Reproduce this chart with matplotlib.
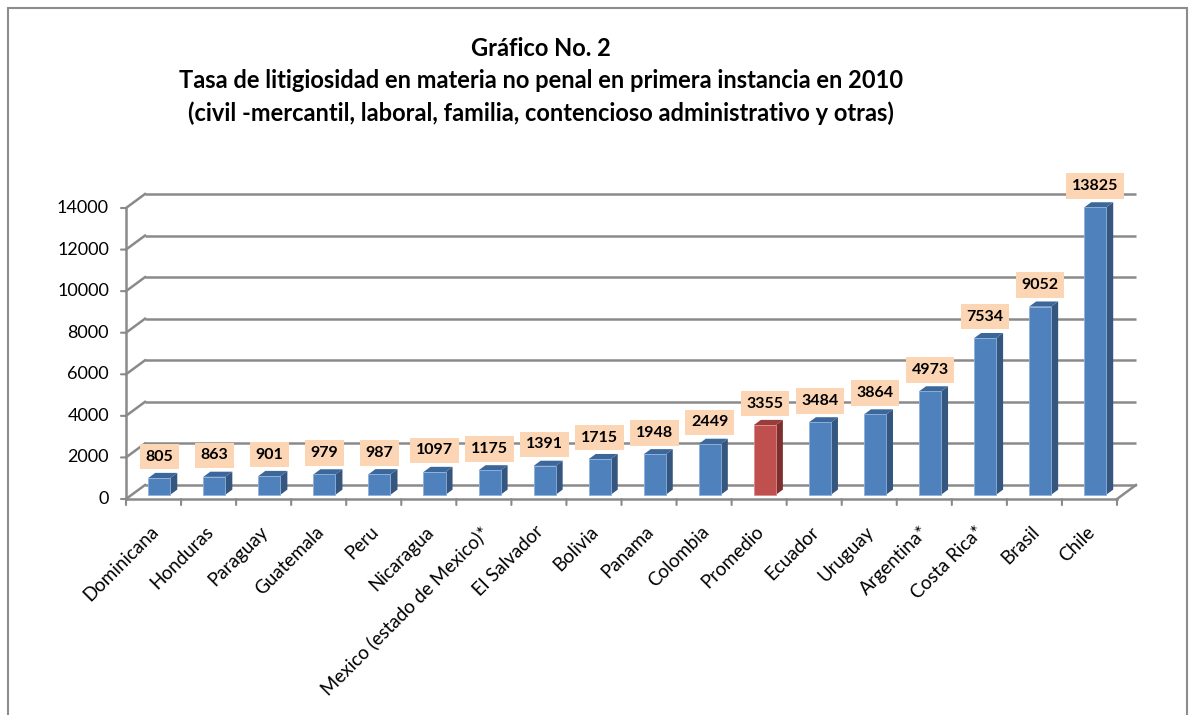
import matplotlib
matplotlib.use("Agg")
import matplotlib.pyplot as plt
from matplotlib.patches import Polygon, Rectangle

categories = [
    "Dominicana", "Honduras", "Paraguay", "Guatemala", "Peru", "Nicaragua",
    "Mexico (estado de Mexico)*", "El Salvador", "Bolivia", "Panama",
    "Colombia", "Promedio", "Ecuador", "Uruguay", "Argentina*",
    "Costa Rica*", "Brasil", "Chile",
]
values = [805, 863, 901, 979, 987, 1097, 1175, 1391, 1715, 1948,
          2449, 3355, 3484, 3864, 4973, 7534, 9052, 13825]
highlight = "Promedio"
yticks = [0, 2000, 4000, 6000, 8000, 10000, 12000, 14000]
title_lines = [
    "Gráfico No. 2",
    "Tasa de litigiosidad en materia no penal en primera instancia en 2010",
    "(civil -mercantil, laboral, familia, contencioso administrativo y otras)",
]

plt.rcParams["font.family"] = ["Lato", "DejaVu Sans"]

W, H, DPI = 1189, 715, 100
fig = plt.figure(figsize=(W / DPI, H / DPI), dpi=DPI)

GRID = "#8A8A8A"
BLUE = ("#4F81BD", "#34567F", "#3C679B", "#8DB0DA")
RED = ("#C0504D", "#7E2F2D", "#9A3C39", "#D98C8A")

# outer chart frame
fig.patches.append(Rectangle((8 / W, -0.02), (W - 10) / W, 1 - 8 / H + 0.02,
                             transform=fig.transFigure, fill=False,
                             ec="#8C8C8C", lw=1.5))

for k, line in enumerate(title_lines):
    fig.text(541 / W, 1 - (48.5 + 32.5 * k) / H, line, ha="center", va="center",
             fontsize=17, fontweight="bold", color="black")

ax = fig.add_axes([126 / W, 1 - 499 / H, (1117 - 126) / W, (499 - 208) / H])
n = len(categories)
ax.set_xlim(0, n)
ax.set_ylim(0, yticks[-1])
ax.axis("off")

# depth of the 3-D box, converted from pixels to data units
x0, y0 = ax.transData.transform((0, 0))
x1, y1 = ax.transData.transform((1, 1000))
DX = 19 / (x1 - x0)
DY = 14 / ((y1 - y0) / 1000)

# back wall gridlines and left wall diagonals
for y in yticks:
    ax.plot([DX, n + DX], [y + DY, y + DY], color=GRID, lw=1.8, zorder=1,
            solid_capstyle="butt", clip_on=False)
    ax.plot([0, DX], [y, y + DY], color=GRID, lw=1.8, zorder=1, clip_on=False)
    ax.annotate("", xy=(0, y), xytext=(-5, 0), textcoords="offset pixels",
                annotation_clip=False,
                arrowprops=dict(arrowstyle="-", color=GRID, lw=1.5,
                                shrinkA=0, shrinkB=0))
    ax.annotate(str(y), xy=(0, y), xytext=(-17, 0), textcoords="offset pixels",
                ha="right", va="center", fontsize=13, color="black",
                annotation_clip=False)

# floor: front edge, right diagonal; front y-axis line
ax.plot([0, n], [0, 0], color=GRID, lw=1.8, zorder=1, clip_on=False)
ax.plot([n, n + DX], [0, DY], color=GRID, lw=1.8, zorder=1, clip_on=False)
ax.plot([0, 0], [0, yticks[-1]], color=GRID, lw=1.8, zorder=1, clip_on=False)
for i in range(n + 1):
    ax.annotate("", xy=(i, 0), xytext=(0, -6), textcoords="offset pixels",
                annotation_clip=False,
                arrowprops=dict(arrowstyle="-", color=GRID, lw=1.5,
                                shrinkA=0, shrinkB=0))

# bars: front face placed part-way into the depth of the box
f0, f1 = 0.3, 0.67
bw = 0.4
dd = f1 - f0
for i, (cat, v) in enumerate(zip(categories, values)):
    front, side, top, edge = RED if cat == highlight else BLUE
    xc = i + 0.5 + f0 * DX
    base = f0 * DY
    ax.bar(xc, v, width=bw, bottom=base, color=front, edgecolor=edge,
           lw=0.6, zorder=4, clip_on=False)
    xl, xr, yt = xc - bw / 2, xc + bw / 2, base + v
    ax.add_patch(Polygon([(xr, base), (xr + dd * DX, base + dd * DY),
                          (xr + dd * DX, yt + dd * DY), (xr, yt)],
                         closed=True, fc=side, ec="none", zorder=3,
                         clip_on=False))
    ax.add_patch(Polygon([(xl, yt), (xr, yt), (xr + dd * DX, yt + dd * DY),
                          (xl + dd * DX, yt + dd * DY)],
                         closed=True, fc=top, ec="none", zorder=3,
                         clip_on=False))
    ax.annotate(f"{v}", xy=(xc, yt), xytext=(0, 21.5), textcoords="offset pixels",
                ha="center", va="center", fontsize=11.5, fontweight="bold",
                color="black", zorder=6, annotation_clip=False,
                bbox=dict(boxstyle="square,pad=0.36", fc="#FCD5B4", ec="none"))
    ax.annotate(cat, xy=(i + 0.5, 0), xytext=(2, -30), textcoords="offset pixels",
                ha="right", va="center", rotation=45, rotation_mode="anchor",
                fontsize=13.5, color="black", annotation_clip=False)

fig.savefig("out.png", dpi=DPI)
